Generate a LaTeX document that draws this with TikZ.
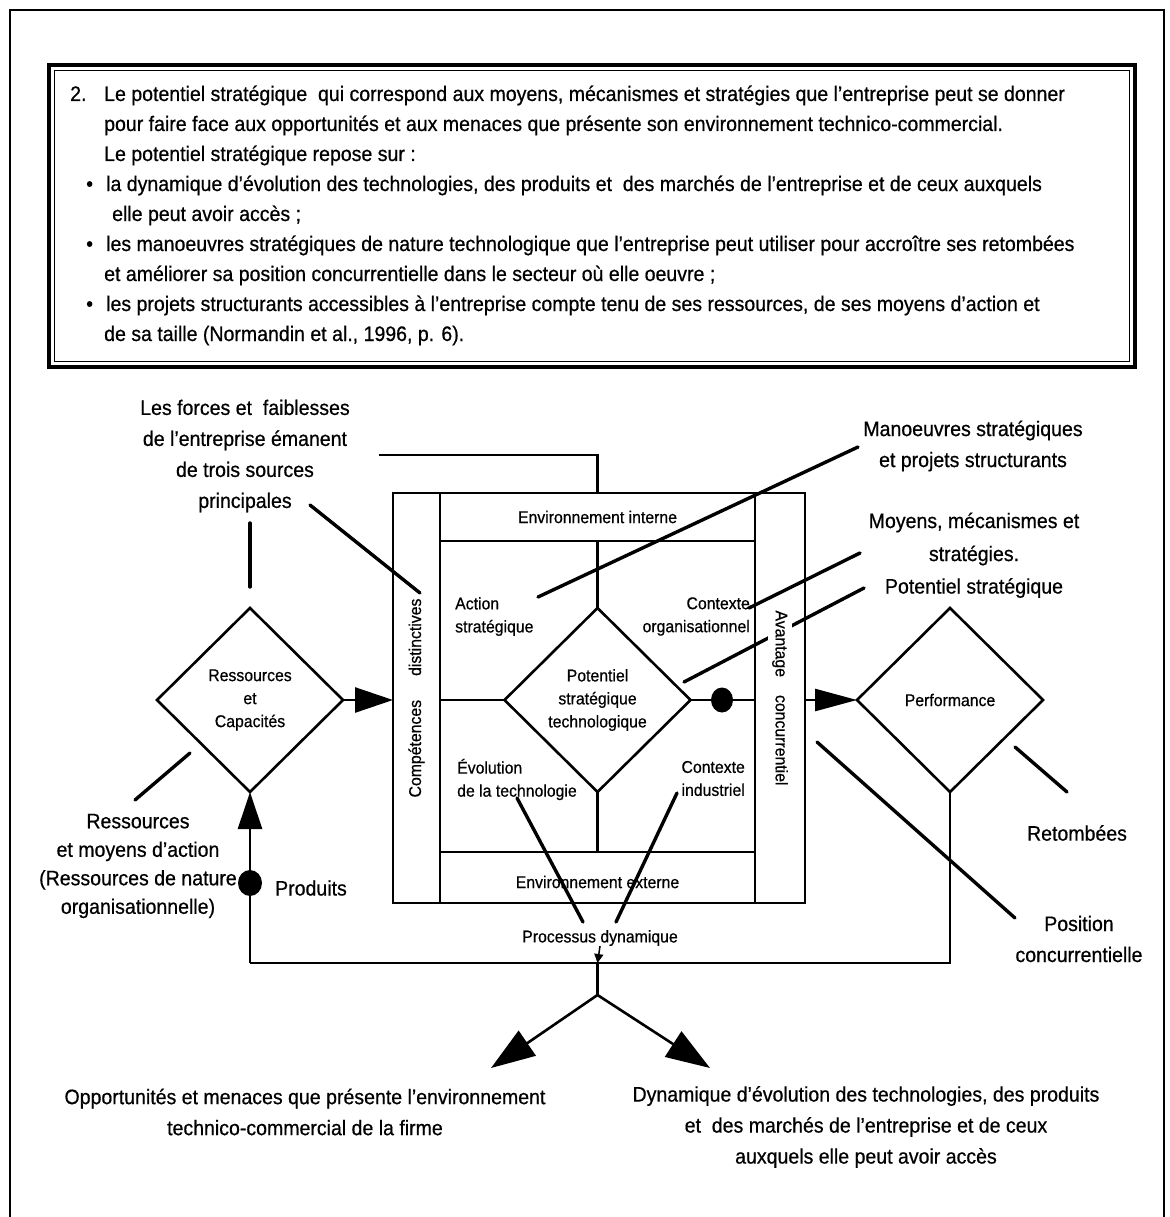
\documentclass[tikz,border=0pt]{standalone}
\usepackage{fontspec}
\setmainfont[FakeStretch=0.93,FakeBold=0.6]{Liberation Sans}
\usetikzlibrary{arrows.meta,shapes.geometric}
\begin{document}
\begin{tikzpicture}[x=1pt,y=-1pt,
  ln/.style={line width=2.6pt},
  ptr/.style={line width=3.4pt, line cap=round},
  frm/.style={line width=2.4pt},
  big/.style={font=\fontsize{21}{31}\selectfont, align=center, inner sep=0pt},
  sm/.style={font=\fontsize{17}{23}\selectfont, align=center, inner sep=0pt},
  txt/.style={font=\fontsize{21}{30}\selectfont, anchor=west, inner sep=0pt, text height=15pt, text depth=5pt},
  dmd/.style={draw, diamond, line width=2.6pt, minimum width=186pt, minimum height=184pt, inner sep=0pt, outer sep=0pt, sm},
  dot/.style={ellipse, fill=black, inner sep=0pt},
]
\useasboundingbox[fill=white] (0,0) rectangle (1169,1217);

% outer frame
\draw[frm] (10,1217) -- (10,10) -- (1164,10) -- (1164,1217);

% framed statement at the top (double rule)
\draw[line width=3.4pt] (49,65) rectangle (1135,367);
\draw[line width=1.3pt] (54.5,70.5) rectangle (1129.5,361.5);

\node[txt] (n2) at (70,96) {2.};
\node[txt] (l1) at (104,96) {Le potentiel stratégique\ \ qui correspond aux moyens, mécanismes et stratégies que l’entreprise peut se donner};
\node[txt] (l2) at (104,126) {pour faire face aux opportunités et aux menaces que présente son environnement technico-commercial.};
\node[txt] (l3) at (104,156) {Le potentiel stratégique repose sur :};
\node[txt] (b1) at (86,186) {•};
\node[txt] (l4) at (106,186) {la dynamique d’évolution des technologies, des produits et\ \ des marchés de l’entreprise et de ceux auxquels};
\node[txt] (l5) at (112,216) {elle peut avoir accès ;};
\node[txt] (b2) at (86,246) {•};
\node[txt] (l6) at (106,246) {les manoeuvres stratégiques de nature technologique que l’entreprise peut utiliser pour accroître ses retombées};
\node[txt] (l7) at (104,276) {et améliorer sa position concurrentielle dans le secteur où elle oeuvre ;};
\node[txt] (b3) at (86,306) {•};
\node[txt] (l8) at (106,306) {les projets structurants accessibles à l’entreprise compte tenu de ses ressources, de ses moyens d’action et};
\node[txt] (l9) at (104,336) {de sa taille (Normandin et al., 1996, p. 6).};

% central block
\node[draw, ln, minimum width=412pt, minimum height=410pt, outer sep=0pt] (box) at (599,698) {};
\node[draw, ln, rotate=90, minimum width=410pt, minimum height=47pt, outer sep=0pt, sm] (colL) at (416.5,698) {Compétences\hspace{24pt}distinctives};
\node[draw, ln, rotate=-90, minimum width=410pt, minimum height=50pt, outer sep=0pt] (colR) at (780,698) {};
\node[draw, ln, minimum width=315pt, minimum height=48pt, outer sep=0pt, sm] (envi) at (597.5,517) {Environnement interne};
\node[draw, ln, minimum width=315pt, minimum height=51pt, outer sep=0pt, sm] (enve) at (597.5,877.5) {};
\node[sm] (envetxt) at (597.5,882) {Environnement externe};

\node[dmd] (pot) at (597.5,700) {Potentiel\\stratégique\\technologique};
\draw[ln] (envi.south) -- (pot.north);
\draw[ln] (pot.south) -- (enve.north);
\draw[ln] (pot.west) -- (pot.west -| envi.west);
\draw[ln] (pot.east) -- (pot.east -| envi.east);
\node[dot, minimum width=22pt, minimum height=25pt] (dot1) at (722,700) {};

\node[sm, align=left, anchor=west] (action) at (455,616.5) {Action\\stratégique};
\node[sm, align=right, anchor=east] (ctxo) at (750,616.5) {Contexte\\organisationnel};
\node[sm, align=left, anchor=west] (evol) at (457,779.5) {Évolution\\de la technologie};
\node[sm, align=right, anchor=east] (ctxi) at (745,778.5) {Contexte\\industriel};

% side diamonds and flows
\node[dmd] (res) at (250,700) {Ressources\\et\\Capacités};
\node[dmd] (perf) at (950,700) {Performance};
\draw[ln, -{Triangle[length=38pt,width=25pt]}] (res.east) -- (res.east -| box.west);
\draw[ln, -{Triangle[length=42pt,width=22pt]}] (perf.west -| box.east) -- (perf.west);

\coordinate (hl) at (250,963);
\coordinate (hr) at (950,963);
\coordinate (hm) at (597.5,963);
\coordinate (jn) at (597.5,995);
\coordinate (tipL) at (491,1068);
\coordinate (tipR) at (710,1068);
\draw[ln, -{Triangle[length=37pt,width=24pt]}] (hl) -- (res.south);
\draw[ln] (perf.south) -- (hr) -- (hl);
\node[dot, minimum width=24pt, minimum height=26pt] (dot2) at (250,883) {};
\draw[ln] (hm) -- (jn);
\draw[ln, -{Triangle[length=44pt,width=30pt]}] (jn) -- (tipL);
\draw[ln, -{Triangle[length=44pt,width=30pt]}] (jn) -- (tipR);
\node[sm] (proc) at (600,938) {Processus dynamique};
\draw[line width=1.5pt, -{Triangle[length=9pt,width=9pt]}] (proc.south) -- (hm);

% outside labels
\node[big] (forces) at (245,456) {Les forces et\ \ faiblesses\\de l’entreprise émanent\\de trois sources\\principales};
\node[big, font=\fontsize{21}{28.5}\selectfont] (rma) at (138,866) {Ressources\\et moyens d’action\\(Ressources de nature\\organisationnelle)};
\node[big] (prod) at (311,888) {Produits};
\node[big] (manoe) at (973,446) {Manoeuvres stratégiques\\et projets structurants};
\node[big, font=\fontsize{21}{33}\selectfont] (moyens) at (974,539) {Moyens, mécanismes et\\stratégies.};
\node[big] (potl) at (974,588) {Potentiel stratégique};
\node[big] (retom) at (1077,833) {Retombées};
\node[big] (posit) at (1079,939) {Position\\concurrentielle};
\node[big] (opp) at (305,1112) {Opportunités et menaces que présente l’environnement\\technico-commercial de la firme};
\node[big] (dyn) at (866,1127) {Dynamique d’évolution des technologies, des produits\\et\ \ des marchés de l’entreprise et de ceux\\auxquels elle peut avoir accès};

% pointer lines
\coordinate (fa) at (379,455);
\coordinate (fb) at (597.5,455);
\draw[ln] (fa) -- (fb) -- (envi.north);
\coordinate (fv1) at (250,523);
\coordinate (fv2) at (250,587);
\draw[ptr] (fv1) -- (fv2);
\coordinate (fd1) at (310,505);
\coordinate (fd2) at (420,593);
\draw[ptr] (fd1) -- (fd2);
\coordinate (ra1) at (190,753);
\coordinate (ra2) at (135,800);
\draw[ptr] (ra1) -- (ra2);
\coordinate (ma1) at (538,597);
\coordinate (ma2) at (858,447);
\draw[ptr] (ma1) -- (ma2);
\coordinate (mo1) at (749,608);
\coordinate (mo2) at (860,553);
\draw[ptr] (mo1) -- (mo2);
\coordinate (pl1) at (684,682);
\coordinate (pl2) at (864,588);
\draw[ptr] (pl1) -- (pl2);
\coordinate (ps1) at (817,742);
\coordinate (ps2) at (1015,918);
\draw[ptr] (ps1) -- (ps2);
\coordinate (rt1) at (1015,747);
\coordinate (rt2) at (1067,792);
\draw[ptr] (rt1) -- (rt2);
\coordinate (el1) at (517,798);
\coordinate (el2) at (583,922);
\draw[ptr] (el1) -- (el2);
\coordinate (er1) at (677,793);
\coordinate (er2) at (616,922);
\draw[ptr] (er1) -- (er2);

% label of the right column, laid over the crossing pointer
\node[sm, rotate=-90, fill=white, inner sep=4pt] (avtxt) at (colR.center) {Avantage\hspace{18pt}concurrentiel};
\end{tikzpicture}
\end{document}
